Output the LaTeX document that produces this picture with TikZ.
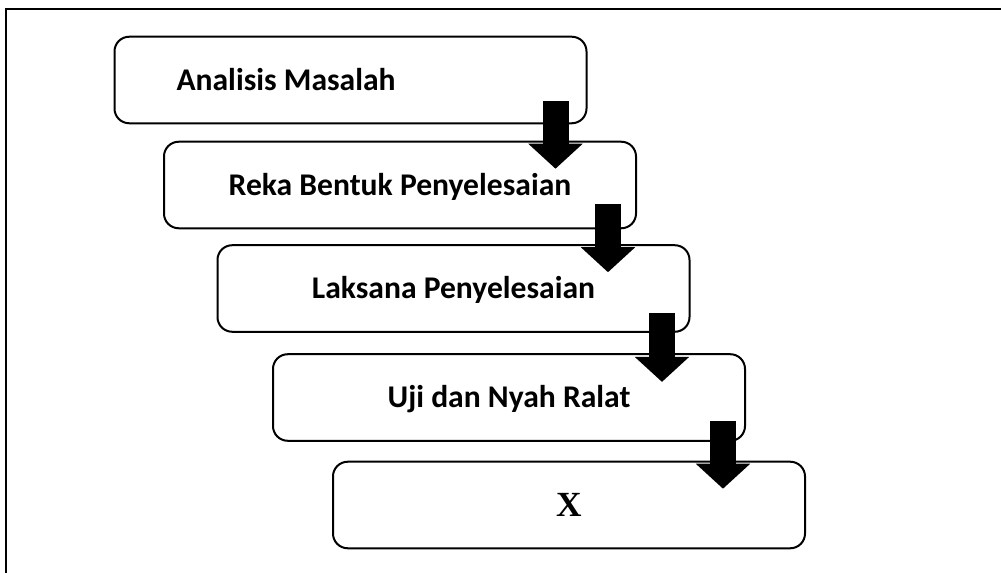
\documentclass[tikz,border=0pt]{standalone}
\usepackage{fontspec}
\setmainfont{Carlito}
\newfontfamily\timesfont{Liberation Serif}
\usepackage{tikz}
\usetikzlibrary{arrows.meta}

\tikzset{
  stepbox/.style={draw, line width=1.5pt, rounded corners=11pt, fill=white,
    minimum width=354pt, minimum height=64.9pt, inner sep=0pt,
    text height=15.3pt, text depth=0pt,
    font=\fontsize{23.7}{28}\selectfont\bfseries},
  blockarrow/.style={line width=19.5pt, -{Triangle[width=39.75pt, length=18.75pt]}},
  frameline/.style={line width=1.5pt}
}

\begin{document}
\begin{tikzpicture}[x=0.75pt, y=-0.75pt]
        \useasboundingbox (0,0) rectangle (1001,573);
        \draw [frameline] (1001,9) -- (6,9) -- (6,573);

        \node [stepbox] (analisis) at (350.5,80) {\makebox[261pt][l]{Analisis Masalah}};
        \node [stepbox] (rekabentuk) at (400,185) {Reka Bentuk Penyelesaian};
        \node [stepbox] (laksana) at (453.5,288.5) {Laksana Penyelesaian};
        \node [stepbox] (uji) at (509,397.5) {Uji dan Nyah Ralat};
        \node [stepbox, text height=17pt, font=\fontsize{26.5}{31}\selectfont\timesfont\bfseries] (x) at (569,505) {X};

        \coordinate (s1) at ([xshift=-24pt, yshift=17.25pt]analisis.south east);
        \coordinate (t1) at ([yshift=-21pt]rekabentuk.north);
        \coordinate (s2) at ([xshift=-21.75pt, yshift=18.75pt]rekabentuk.south east);
        \coordinate (t2) at ([yshift=-21pt]laksana.north);
        \coordinate (s3) at ([xshift=-21.4pt, yshift=15pt]laksana.south east);
        \coordinate (t3) at ([yshift=-21.5pt]uji.north);
        \coordinate (s4) at ([xshift=-17.25pt, yshift=15.75pt]uji.south east);
        \coordinate (t4) at ([yshift=-21pt]x.north);

        \draw [blockarrow] (s1) -- (s1 |- t1);
        \draw [blockarrow] (s2) -- (s2 |- t2);
        \draw [blockarrow] (s3) -- (s3 |- t3);
        \draw [blockarrow] (s4) -- (s4 |- t4);
    \end{tikzpicture}
\end{document}
